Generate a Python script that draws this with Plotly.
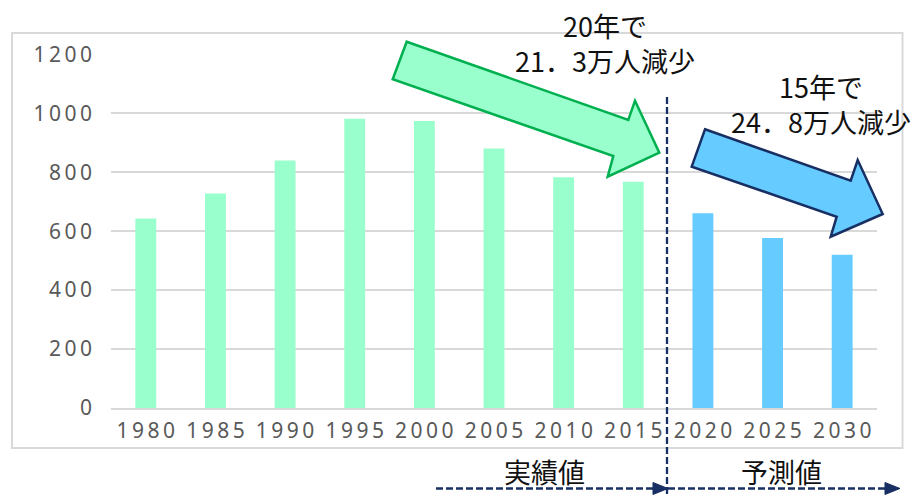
import plotly.graph_objects as go

# ---- data ----
actual_years = ["1980", "1985", "1990", "1995", "2000", "2005", "2010", "2015"]
actual_values = [643, 728, 840, 981, 974, 880, 783, 768]
forecast_years = ["2020", "2025", "2030"]
forecast_values = [661, 577, 520]
y_ticks = [0, 200, 400, 600, 800, 1000, 1200]
note_actual = ["20年で", "21．3万人減少"]
note_forecast = ["15年で", "24．8万人減少"]
label_actual = "実績値"
label_forecast = "予測値"

all_years = actual_years + forecast_years

W, H = 911, 495
PL, PR, PT, PB = 111, 877, 54, 408


def px(x):
    return (x - PL) / (PR - PL)


def py(y):
    return (PB - y) / (PB - PT)


def path(pts, close=True):
    s = "M " + " L ".join(f"{px(x):.5f},{py(y):.5f}" for x, y in pts)
    return s + (" Z" if close else "")


def spaced(s):
    return "\u2009".join(s)


GREEN = "#99FFCC"
BLUE = "#66CCFF"
NAVY = "#172F63"
GRID = "#D9D9D9"
TICK = "#595959"

fig = go.Figure()
fig.add_trace(go.Bar(x=actual_years, y=actual_values, marker=dict(color=GREEN, line=dict(width=0)),
                     hoverinfo="skip"))
fig.add_trace(go.Bar(x=forecast_years, y=forecast_values, marker=dict(color=BLUE, line=dict(width=0)),
                     hoverinfo="skip"))

shapes = []
# outer frame
shapes.append(dict(type="rect", xref="paper", yref="paper", x0=px(12), x1=px(902.5), y0=py(448), y1=py(33),
                   line=dict(color=GRID, width=2), layer="below"))
# green arrow
shapes.append(dict(type="path", xref="paper", yref="paper",
                   path=path([(406.7, 41.7), (628.3, 120), (635, 100.7), (659.3, 152.7),
                              (607.7, 176.7), (613.3, 156), (392.7, 79.3)]),
                   fillcolor=GREEN, line=dict(color="#00B050", width=2.5)))
# blue arrow
shapes.append(dict(type="path", xref="paper", yref="paper",
                   path=path([(705, 129.3), (850.7, 180.7), (857.7, 160), (882.7, 214),
                              (830.7, 236.7), (836.7, 216.7), (691.7, 166.7)]),
                   fillcolor=BLUE, line=dict(color=NAVY, width=2.5)))
# vertical dashed divider
shapes.append(dict(type="line", xref="paper", yref="paper", x0=px(667), x1=px(667), y0=py(97), y1=py(495),
                   line=dict(color=NAVY, width=2.3, dash="7px,3px")))
# bottom dashed arrows
for x0, x1 in [(436, 668), (668, 900)]:
    shapes.append(dict(type="line", xref="paper", yref="paper", x0=px(x0), x1=px(x1 - 13), y0=py(488.5),
                       y1=py(488.5), line=dict(color=NAVY, width=2.6, dash="7px,3px")))
    shapes.append(dict(type="path", xref="paper", yref="paper",
                       path=path([(x1 - 15, 482.5), (x1, 488.5), (x1 - 15, 494.5)]),
                       fillcolor=NAVY, line=dict(color=NAVY, width=1)))

jp = "Noto Sans CJK JP"
ann = []
ann.append(dict(text="<br>".join(note_actual), x=px(605), y=py(43)))
ann.append(dict(text="<br>".join(note_forecast), x=px(821), y=py(104)))
for a in ann:
    a.update(xref="paper", yref="paper", showarrow=False, xanchor="center", yanchor="middle",
             align="center", font=dict(family=jp, size=27, color="#111111"))
for t, xc in [(label_actual, 544), (label_forecast, 781)]:
    ann.append(dict(text=t, x=px(xc), y=py(471), xref="paper", yref="paper", showarrow=False,
                    xanchor="center", yanchor="middle", font=dict(family=jp, size=27, color="#111111")))

fig.update_layout(
    width=W, height=H, autosize=False,
    margin=dict(l=PL, r=W - PR, t=PT, b=H - PB, pad=0),
    paper_bgcolor="white", plot_bgcolor="white",
    barmode="overlay", bargap=0.7, showlegend=False,
    shapes=shapes, annotations=ann,
    xaxis=dict(type="category", categoryorder="array", categoryarray=all_years,
               tickvals=all_years, ticktext=[spaced(y) for y in all_years],
               tickfont=dict(family="Noto Sans", size=21, color=TICK),
               showline=True, linecolor=GRID, linewidth=1.5, ticks="", showgrid=False,
               ticklabelstandoff=3, range=[-0.5, 10.5], fixedrange=True),
    yaxis=dict(range=[0, 1201], tickvals=y_ticks, ticktext=[spaced(str(v)) for v in y_ticks],
               tickfont=dict(family="Noto Sans", size=21, color=TICK),
               showgrid=True, gridcolor=GRID, gridwidth=1.5, zeroline=False, ticks="",
               ticklabelstandoff=18, showline=False, automargin=False, fixedrange=True),
)
fig.update_xaxes(automargin=False)

fig.write_html("out.html", config={"displayModeBar": False},
               post_script="document.body.style.margin='0';document.body.style.overflow='hidden';")
